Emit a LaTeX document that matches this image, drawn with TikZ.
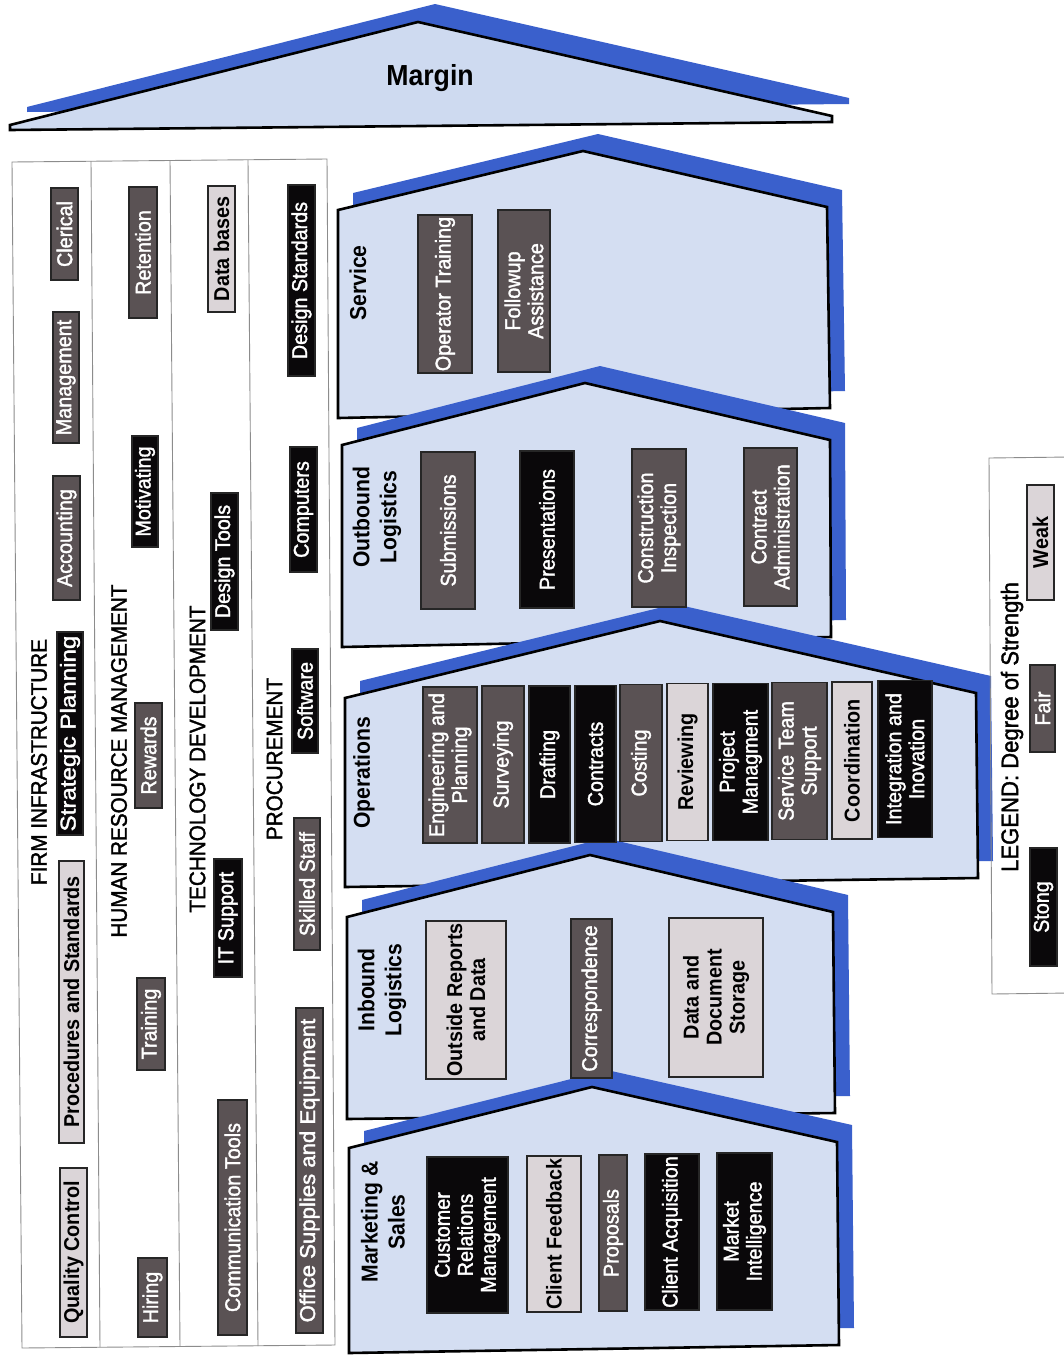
\documentclass[tikz,border=0pt]{standalone}
\usepackage{fontspec}
\setmainfont{Liberation Sans}[FakeStretch=0.92]
\newfontfamily\medfont{Liberation Sans}[FakeStretch=0.92, FakeBold=1.6]
\usepackage{graphicx}
\definecolor{bluec}{RGB}{58,96,204}
\definecolor{housec}{RGB}{212,222,242}
\definecolor{roofc}{RGB}{206,218,240}
\definecolor{strongc}{RGB}{10,8,10}
\definecolor{fairc}{RGB}{90,82,84}
\definecolor{weakc}{RGB}{219,213,216}
\definecolor{linec}{RGB}{140,140,140}
\tikzset{
  sz/.style 2 args={minimum width=#1pt, minimum height=#2pt},
  bx/.style={rotate=90, draw=black!85, line width=1.1pt, inner sep=0pt, align=center, font=\medfont\fontsize{21.5}{23}\selectfont},
  strong/.style={bx, fill=strongc, text=white},
  fair/.style={bx, fill=fairc, text=white},
  weak/.style={bx, fill=weakc, text=black, font=\fontsize{21.5}{23}\selectfont\bfseries},
  ttl/.style={rotate=90, inner sep=0pt, font=\medfont\fontsize{22.5}{24}\selectfont},
  hlab/.style={rotate=90, inner sep=0pt, align=center, font=\fontsize{23}{27}\selectfont\bfseries},
  house/.style={draw=black, line width=2.6pt, fill=housec, line join=miter},
  bluesh/.style={fill=bluec, shift={(15,-17)}},
  panel/.style={draw=linec, line width=0.9pt},
}
\newcommand\mkhouse[5]{%
  \fill[bluesh] #1--#2--#3--#4--#5--cycle;
  \path[house] #1--#2--#3--#4--#5--cycle;}
\begin{document}
\begin{tikzpicture}[x=1pt,y=-1pt]
\useasboundingbox (0,0) rectangle (1064,1358);
\fill[white] (0,0) rectangle (1064,1358);
\clip (0,0) rectangle (1064,1358);

% ---------- Margin roof ----------
\fill[bluec, shift={(17,-18)}] (10,130)--(10,125)--(418,22)--(832,116)--(832,122)--cycle;
\path[draw=black, line width=2.6pt, fill=roofc, line join=miter] (10,130)--(10,125)--(418,22)--(832,116)--(832,122)--cycle;
\node[inner sep=0pt, font=\fontsize{29}{30}\selectfont\bfseries] (margin) at (430,78) {Margin};

% ---------- Support activities panel ----------
\draw[panel] (12,162)--(327,159)--(335,1345)--(22,1348)--cycle;
\draw[panel] (91,161)--(100,1347);
\draw[panel] (170,160)--(180,1346);
\draw[panel] (248,160)--(258,1346);

\node[ttl] (firm) at (39,762) {FIRM INFRASTRUCTURE};
\node[fair, sz={92}{27}] (clerical) at (64.5,234) {Clerical};
\node[fair, sz={131}{26}] (management) at (66,377.5) {Management};
\node[fair, sz={124}{27}] (accounting) at (66.5,538) {Accounting};
\node[strong, sz={203}{26}] (strategic) at (70,733.5) {\scalebox{1.22}[1]{Strategic Planning}};
\node[weak, sz={282}{25}] (procedures) at (71.5,1002) {Procedures and Standards};
\node[weak, sz={169}{27}] (quality) at (73.5,1252.5) {Quality Control};

\node[ttl] (hrm) at (119,761) {HUMAN RESOURCE MANAGEMENT};
\node[fair, sz={131}{28}] (retention) at (143,252.5) {Retention};
\node[strong, sz={111}{26}] (motivating) at (145,491.5) {Motivating};
\node[fair, sz={105}{27}] (rewards) at (148.5,755.5) {Rewards};
\node[fair, sz={92}{28}] (training) at (151,1024) {Training};
\node[fair, sz={79}{29}] (hiring) at (152.5,1297.5) {Hiring};

\node[ttl] (tech) at (197.5,759) {TECHNOLOGY DEVELOPMENT};
\node[weak, sz={126}{27}] (databases) at (221.5,249) {Data bases};
\node[strong, sz={137}{27}] (designtools) at (224.5,561.5) {Design Tools};
\node[strong, sz={118}{28}] (itsupport) at (228,918) {IT Support};
\node[fair, sz={235}{29}] (commtools) at (232.5,1217.5) {Communication Tools};

\node[ttl] (procurement) at (274.5,759) {PROCUREMENT};
\node[strong, sz={191}{27}] (designstd) at (301.5,280.5) {Design Standards};
\node[strong, sz={125}{27}] (computers) at (303.5,509.5) {Computers};
\node[strong, sz={104}{26}] (software) at (305,701) {Software};
\node[fair, sz={132}{26}] (skilled) at (307,884) {Skilled Staff};
\node[fair, sz={325}{27}] (office) at (309.5,1170.5) {\scalebox{1.12}[1]{Office Supplies and Equipment}};

% ---------- Primary activity houses ----------
\mkhouse{(338,418)}{(338,210)}{(583,151)}{(827,207)}{(830,408)}
\mkhouse{(342,647)}{(342,445)}{(585,383)}{(830,440)}{(831,637)}
\mkhouse{(345,887)}{(345,698)}{(660,621)}{(976,693)}{(978,878)}
\mkhouse{(347,1119)}{(347,917)}{(590,855)}{(833,912)}{(835,1113)}
\mkhouse{(349,1353)}{(349,1148)}{(592,1087)}{(837,1142)}{(839,1345)}

% Service
\node[hlab] (service) at (358,283) {Service};
\node[fair, sz={158}{54}] (operator) at (445,294) {Operator Training};
\node[fair, sz={162}{52}] (followup) at (524,291) {Followup\\Assistance};

% Outbound logistics
\node[hlab] (outbound) at (377,517) {Outbound\\Logistics};
\node[fair, sz={157}{54}] (submissions) at (448,530.5) {Submissions};
\node[strong, sz={157}{54}] (presentations) at (547,529.5) {Presentations};
\node[fair, sz={158}{54}] (construction) at (659,528) {Construction\\Inspection};
\node[fair, sz={158}{53}] (contractadm) at (770.5,527) {Contract\\Administration};

% Operations
\node[hlab] (operations) at (364,773) {Operations};
\node[fair, sz={156}{54}] (engineering) at (450,765) {Engineering and\\Planning};
\node[fair, sz={157}{42}] (surveying) at (503,764.5) {Surveying};
\node[strong, sz={157}{41}] (drafting) at (549.5,764.5) {Drafting};
\node[strong, sz={157}{41}] (contracts) at (595.5,764) {Contracts};
\node[fair, sz={157}{42}] (costing) at (641,763) {Costing};
\node[weak, sz={157}{41}] (reviewing) at (687.5,762) {Reviewing};
\node[strong, sz={157}{55}] (projectm) at (740.5,762) {Project\\Managment};
\node[fair, sz={157}{55}] (serviceteam) at (799.5,761) {Service Team\\Support};
\node[weak, sz={157}{40}] (coordination) at (852,760.5) {Coordination};
\node[strong, sz={157}{54}] (integration) at (905,759) {Integration and\\Inovation};

% Inbound logistics
\node[hlab] (inbound) at (382,990) {Inbound\\Logistics};
\node[weak, sz={158}{80}] (outside) at (466,1000) {Outside Reports\\and Data};
\node[fair, sz={159}{41}] (correspondence) at (591.5,998.5) {Correspondence};
\node[weak, sz={159}{94}] (datadoc) at (716,997.5) {Data and\\Document\\Storage};

% Marketing & Sales
\node[hlab] (marketing) at (383,1222) {Marketing \&\\Sales};
\node[strong, sz={156}{81}] (crm) at (467.5,1235) {Customer\\Relations\\Management};
\node[weak, sz={156}{54}] (feedback) at (554,1234) {Client Feedback};
\node[fair, sz={156}{28}] (proposals) at (613,1233) {Proposals};
\node[strong, sz={156}{54}] (acquisition) at (672,1232) {Client Acquisition};
\node[strong, sz={157}{55}] (intelligence) at (744.5,1231.5) {Market\\Intelligence};

% ---------- Legend ----------
\draw[panel] (1070,457)--(989,458)--(992,994)--(1070,993);
\node[ttl, font=\medfont\fontsize{24}{26}\selectfont] (legend) at (1012,727) {LEGEND: Degree of Strength};
\node[strong, sz={118}{27}] (stong) at (1043.5,907) {Stong};
\node[fair, sz={87}{25}] (fairbox) at (1042.5,708.5) {Fair};
\node[weak, sz={115}{27}] (weakbox) at (1040.5,542.5) {Weak};
\end{tikzpicture}
\end{document}
